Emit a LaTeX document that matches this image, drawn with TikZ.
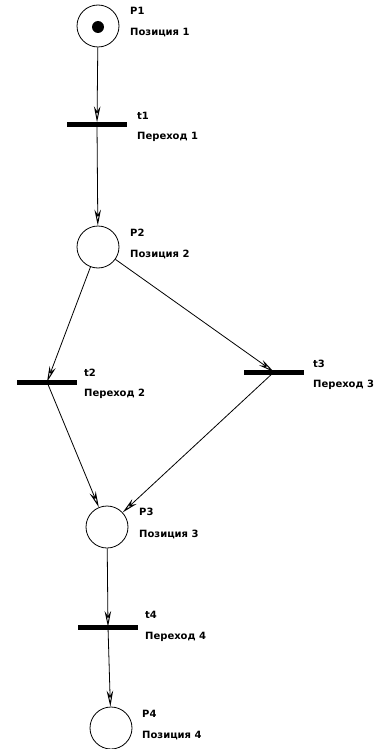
\documentclass[tikz,border=0pt]{standalone}
\usepackage{fontspec}
\setmainfont{DejaVu Sans}
\usetikzlibrary{arrows.meta}
\tikzset{
  place/.style={circle,draw,line width=0.8pt,minimum size=42pt,inner sep=0pt},
  trans/.style={rectangle,fill=black,minimum width=60pt,minimum height=5pt,inner sep=0pt},
  lbl/.style={anchor=west,inner sep=0pt,font=\fontsize{10}{12}\selectfont\bfseries},
  arc/.style={line width=0.8pt,-{Stealth[open,length=16pt,width=6.5pt,line width=1pt]}}
}
\begin{document}
\begin{tikzpicture}[x=1pt,y=-1pt]
\useasboundingbox (0,0) rectangle (381,749);
% places
\node[place] (p1) at (98,26) {};
\node[circle,fill=black,minimum size=12pt,inner sep=0pt] (tok) at (98,27) {};
\node[place] (p2) at (98,247) {};
\node[place] (p3) at (107,527) {};
\node[place] (p4) at (111,728) {};
% transitions
\node[trans] (t1) at (97,125) {};
\node[trans] (t2) at (47,382) {};
\node[trans] (t3) at (274,372) {};
\node[trans] (t4) at (108,627) {};
% arcs
\draw[arc] (p1) -- (t1);
\draw[arc] (t1.center) -- (p2);
\draw[arc] (p2) -- (t2.center);
\draw[arc] (p2) -- (t3.center);
\draw[arc] (t2.center) -- (p3);
\draw[arc] (t3.center) -- (p3);
\draw[arc] (p3) -- (t4.center);
\draw[arc] (t4.center) -- (p4);
% labels
\node[lbl] (lp1a) at (130,11) {P1};
\node[lbl] (lp1b) at (130,33) {Позиция 1};
\node[lbl] (lt1a) at (137,116) {t1};
\node[lbl] (lt1b) at (137,137) {Переход 1};
\node[lbl] (lp2a) at (130,233) {P2};
\node[lbl] (lp2b) at (130,254) {Позиция 2};
\node[lbl] (lt2a) at (84,373) {t2};
\node[lbl] (lt2b) at (84,394) {Переход 2};
\node[lbl] (lt3a) at (313,364) {t3};
\node[lbl] (lt3b) at (313,385) {Переход 3};
\node[lbl] (lp3a) at (139,512) {P3};
\node[lbl] (lp3b) at (139,534) {Позиция 3};
\node[lbl] (lt4a) at (145,615) {t4};
\node[lbl] (lt4b) at (145,637) {Переход 4};
\node[lbl] (lp4a) at (142,714) {P4};
\node[lbl] (lp4b) at (142,736) {Позиция 4};
\end{tikzpicture}
\end{document}
